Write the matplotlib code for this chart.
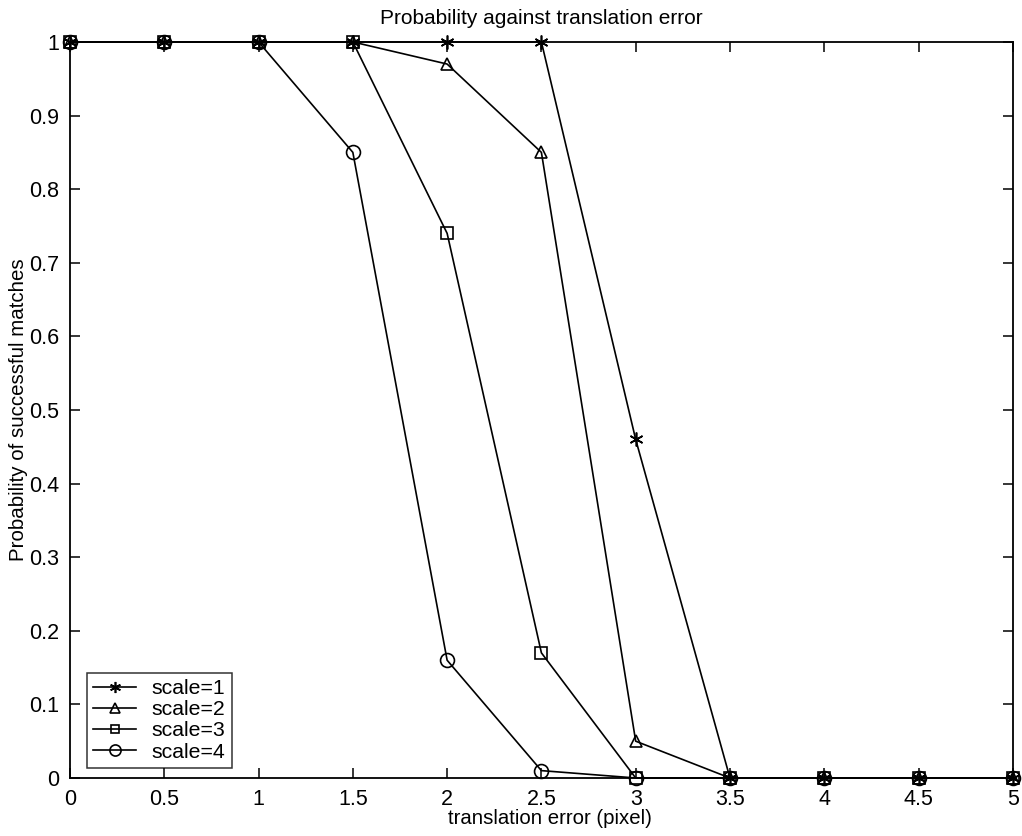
import numpy as np
import matplotlib
matplotlib.use('Agg')
import matplotlib.pyplot as plt

plt.rcParams['font.family'] = ['Liberation Sans', 'DejaVu Sans']

# translation error (pixel) and matching probability per scale
err = [0, 0.5, 1, 1.5, 2, 2.5, 3, 3.5, 4, 4.5, 5]
p_scale1 = [1, 1, 1, 1, 1, 1, 0.46, 0, 0, 0, 0]
p_scale2 = [1, 1, 1, 1, 0.97, 0.85, 0.05, 0, 0, 0, 0]
p_scale3 = [1, 1, 1, 1, 0.74, 0.17, 0, 0, 0, 0, 0]
p_scale4 = [1, 1, 1, 0.85, 0.16, 0.01, 0, 0, 0, 0, 0]
labels = ['scale=1', 'scale=2', 'scale=3', 'scale=4']

fig = plt.figure(figsize=(10.22, 8.36), dpi=100)
ax = fig.add_axes([0.0685, 0.0694, 0.9225, 0.8804])

styles = [dict(marker=(6, 2, 0), ms=10), dict(marker='^', ms=9, mfc='none'),
          dict(marker='s', ms=8, mfc='none'), dict(marker='o', ms=10, mfc='none')]
for p, lab, st in zip([p_scale1, p_scale2, p_scale3, p_scale4], labels, styles):
    ax.plot(err, p, color='black', lw=1.2, mec='black', mew=1.2, label=lab, clip_on=False, **st)

ax.set_xlim(0, 5)
ax.set_ylim(0, 1)
ax.set_xticks(np.arange(0, 5.01, 0.5))
ax.set_xticklabels(['0', '0.5', '1', '1.5', '2', '2.5', '3', '3.5', '4', '4.5', '5'])
ax.set_yticks(np.arange(0, 1.01, 0.1))
ax.set_yticklabels(['0', '0.1', '0.2', '0.3', '0.4', '0.5', '0.6', '0.7', '0.8', '0.9', '1'])
ax.tick_params(direction='in', top=True, right=True, length=7, width=1.1, labelsize=15.5, pad=8)
for s in ax.spines.values():
    s.set_linewidth(1.3)

ax.set_title('Probability against translation error', fontsize=15, pad=13)
ax.set_xlabel('translation error (pixel)', fontsize=14.7, labelpad=1)
ax.xaxis.set_label_coords(0.509, -0.042)
ax.set_ylabel('Probability of successful matches', fontsize=14.8)
ax.yaxis.set_label_coords(-0.0445, 0.5)

leg = ax.legend(loc='lower left', bbox_to_anchor=(0.018, 0.0136), fontsize=15.3, frameon=True,
                fancybox=False, edgecolor='black', handlelength=2.0, borderpad=0.3,
                labelspacing=0.1, handletextpad=0.75, borderaxespad=0, markerscale=0.8)
leg.get_frame().set_linewidth(1.1)

fig.savefig('out.png', dpi=100)
